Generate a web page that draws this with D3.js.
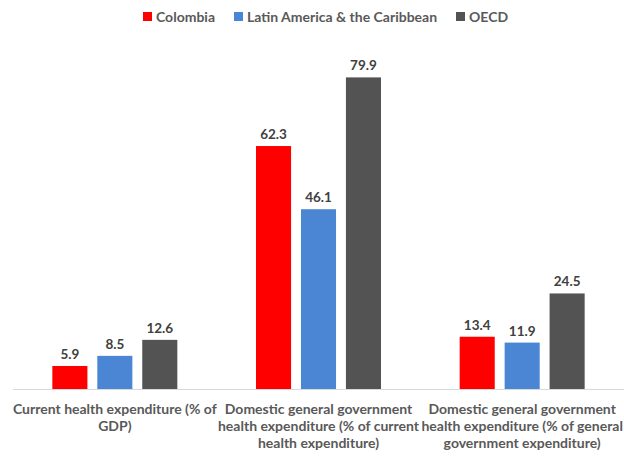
<!DOCTYPE html>
<html>
<head>
<meta charset="utf-8">
<script src="https://cdn.jsdelivr.net/npm/d3@7"></script>
<style>
    body { margin: 0; background: #fff; }
    text { font-family: Lato, "Open Sans", sans-serif; font-weight: bold; }
</style>
</head>
<body>
<div id="chart"></div>
<script>
    // data
    const categories = [
        ['Current health expenditure (% of', 'GDP)'],
        ['Domestic general government', 'health expenditure (% of current', 'health expenditure)'],
        ['Domestic general government', 'health expenditure (% of general', 'government expenditure)']
    ];
    const seriesNames = ['Colombia', 'Latin America & the Caribbean', 'OECD'];
    const colombia = [5.9, 62.3, 13.4];
    const latam = [8.5, 46.1, 11.9];
    const oecd = [12.6, 79.9, 24.5];
    const colors = ['#ff0000', '#4a86d4', '#535353'];

    const width = 624;
    const height = 456;
    const margins = { top: 40, bottom: 67, left: 13, right: 0 };

    const svg = d3.select('#chart')
        .append('svg')
        .attr('width', width)
        .attr('height', height);

    //scales
    const x0 = d3.scaleBand()
        .domain(d3.range(categories.length))
        .range([margins.left, width - margins.right])
        .paddingInner(1/3)
        .paddingOuter(1/6);
    const x1 = d3.scaleBand()
        .domain(d3.range(seriesNames.length))
        .range([0, x0.bandwidth()])
        .paddingInner(0.22)
        .paddingOuter(0.12);
    const y = d3.scaleLinear()
        .domain([0, 80])
        .range([height - margins.bottom, height - margins.bottom - 312]);

    const series = [colombia, latam, oecd];

    //baseline
    svg.append('line')
        .attr('x1', margins.left)
        .attr('x2', width - margins.right)
        .attr('y1', y(0) + 0.5)
        .attr('y2', y(0) + 0.5)
        .attr('stroke', '#d9d9d9')
        .attr('stroke-width', 1);

    //bars
    const groups = svg.selectAll('g.group')
        .data(categories)
        .join('g')
        .classed('group', true)
        .attr('transform', (d, i) => `translate(${x0(i)},0)`);

    groups.each(function(cat, ci) {
        const g = d3.select(this);
        const rows = series.map((s, si) => ({ si, value: s[ci] }));
        g.selectAll('rect')
            .data(rows)
            .join('rect')
            .attr('x', d => x1(d.si))
            .attr('y', d => y(d.value))
            .attr('width', x1.bandwidth())
            .attr('height', d => y(0) - y(d.value))
            .attr('fill', d => colors[d.si]);
        g.selectAll('text.value')
            .data(rows)
            .join('text')
            .classed('value', true)
            .attr('x', d => x1(d.si) + x1.bandwidth() / 2)
            .attr('y', d => y(d.value) - 7)
            .attr('text-anchor', 'middle')
            .attr('fill', '#404040')
            .style('font-size', '13.5px')
            .text(d => d.value.toFixed(1));
    });

    //category labels
    const labels = svg.append('g')
        .selectAll('text')
        .data(categories)
        .join('text')
        .attr('text-anchor', 'middle')
        .attr('fill', '#595959')
        .style('font-size', '14px')
        .attr('transform', (d, i) => `translate(${x0(i) + x0.bandwidth() / 2},${y(0) + 25})`);
    labels.selectAll('tspan')
        .data(d => d)
        .join('tspan')
        .attr('x', 0)
        .attr('dy', (d, i) => i === 0 ? 0 : 17)
        .text(d => d);

    //legend
    const legendX = [143, 234, 456];
    const legend = svg.append('g')
        .selectAll('g')
        .data(seriesNames)
        .join('g')
        .attr('transform', (d, i) => `translate(${legendX[i]},11)`);
    legend.append('rect')
        .attr('width', 9)
        .attr('height', 9)
        .attr('y', 1)
        .attr('fill', (d, i) => colors[i]);
    legend.append('text')
        .attr('x', 13)
        .attr('y', 10.5)
        .attr('fill', '#595959')
        .style('font-size', '14px')
        .text(d => d);
</script>
</body>
</html>
